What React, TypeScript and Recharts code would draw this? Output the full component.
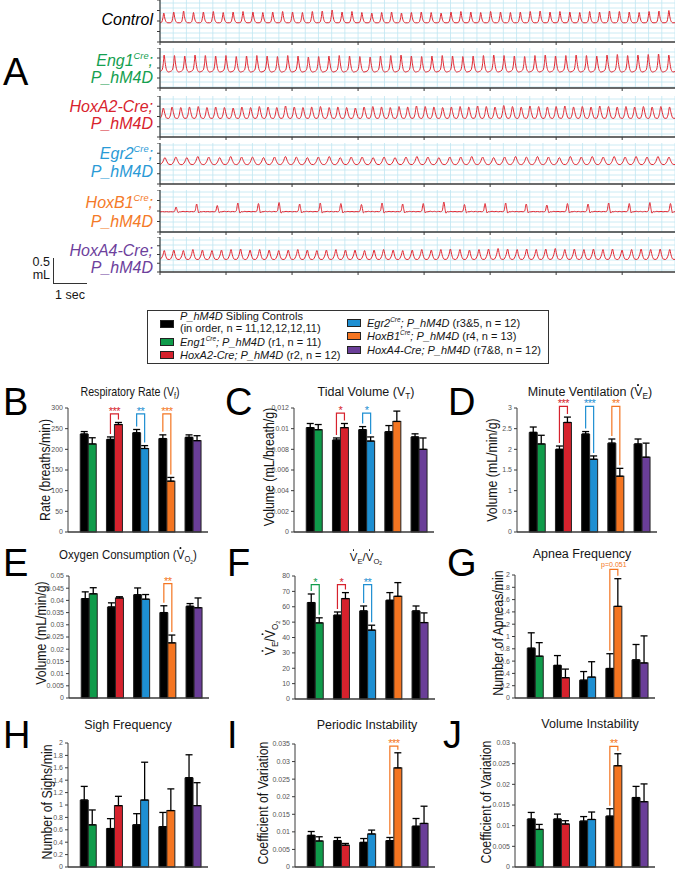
import React from 'react';
import { BarChart, Bar, XAxis, YAxis, ErrorBar, LineChart, Line, CartesianGrid } from 'recharts';

const FONT = '"Liberation Sans", Arial, Helvetica, sans-serif';
const INK = '#161616';
const AXIS = '#3a3a3a';
const TRACE_RED = '#e1252f';
const GRID_CYAN = '#bfe6f1';

// ---------- groups ----------
const GROUPS = ['Eng1', 'HoxA2', 'Egr2', 'HoxB1', 'HoxA4'];
const GROUP_COLORS = ['#0f9b4a', '#d6222d', '#1e8fd2', '#f47521', '#6a3e98'];

// ---------- panel A traces (peak tidal volume per breath, mL) ----------
const TRACE_SECONDS = 15.6;
const controlPeaks = [
  0.20, 0.22, 0.24, 0.21, 0.22, 0.23, 0.21, 0.22, 0.23, 0.22,
  0.21, 0.22, 0.23, 0.22, 0.21, 0.23, 0.24, 0.26, 0.22, 0.23,
  0.21, 0.20, 0.21, 0.22, 0.20, 0.21, 0.22, 0.21, 0.20, 0.22,
  0.23, 0.22, 0.21, 0.23, 0.22, 0.21, 0.22, 0.23, 0.24, 0.22,
  0.23, 0.22, 0.21, 0.23, 0.22, 0.24, 0.23, 0.22, 0.21, 0.23,
  0.24, 0.25,
];
const eng1Peaks = [
  0.34, 0.33, 0.32, 0.34, 0.33, 0.32, 0.33, 0.31, 0.32, 0.33,
  0.32, 0.31, 0.33, 0.32, 0.30, 0.31, 0.32, 0.33, 0.32, 0.31,
  0.30, 0.32, 0.33, 0.34, 0.32, 0.31, 0.32, 0.33, 0.32, 0.31,
  0.32, 0.33, 0.34, 0.33, 0.32, 0.31, 0.33, 0.34, 0.32, 0.33,
  0.34, 0.33, 0.32, 0.34, 0.35, 0.33, 0.34, 0.35, 0.36, 0.34,
];
const hoxA2Peaks = [
  0.22, 0.24, 0.23, 0.24, 0.25, 0.23, 0.24, 0.23, 0.22, 0.24,
  0.23, 0.25, 0.24, 0.23, 0.26, 0.24, 0.23, 0.24, 0.25, 0.23,
  0.24, 0.23, 0.22, 0.24, 0.25, 0.24, 0.23, 0.25, 0.24, 0.26,
  0.25, 0.24, 0.23, 0.24, 0.25, 0.24, 0.26, 0.25, 0.24, 0.27,
  0.25, 0.24, 0.26, 0.25, 0.24, 0.25, 0.26, 0.24, 0.25, 0.24,
  0.26, 0.25, 0.24, 0.25, 0.24, 0.25, 0.24, 0.25, 0.24,
];
const egr2Peaks = [
  0.15, 0.16, 0.15, 0.17, 0.16, 0.15, 0.17, 0.16, 0.16, 0.15,
  0.16, 0.17, 0.16, 0.15, 0.16, 0.17, 0.15, 0.16, 0.16, 0.15,
  0.16, 0.15, 0.16, 0.17, 0.16, 0.15, 0.16, 0.16, 0.17, 0.16,
  0.15, 0.16, 0.17, 0.16, 0.17, 0.16, 0.15, 0.17, 0.16, 0.17,
  0.16, 0.17, 0.16, 0.17, 0.16, 0.17, 0.16,
];
const hoxB1Peaks = [
  0.10, 0.16, 0.13, 0.18, 0.17, 0.19, 0.16, 0.18, 0.17, 0.15,
  0.18, 0.16, 0.17, 0.20, 0.15, 0.17, 0.18, 0.16, 0.14, 0.17,
  0.16, 0.18, 0.17, 0.19, 0.17,
];
const hoxA4Peaks = [
  0.19, 0.20, 0.19, 0.21, 0.20, 0.19, 0.20, 0.21, 0.22, 0.20,
  0.21, 0.20, 0.19, 0.20, 0.21, 0.20, 0.19, 0.20, 0.21, 0.20,
  0.20, 0.19, 0.20, 0.21, 0.20, 0.19, 0.20, 0.21, 0.20, 0.21,
  0.22, 0.21, 0.20, 0.21, 0.22, 0.23, 0.22, 0.21, 0.22, 0.21,
  0.22, 0.23, 0.21, 0.22, 0.21, 0.22, 0.21, 0.22, 0.20, 0.21,
  0.22, 0.21, 0.22, 0.21,
];

// one breath: [phase of breath, fraction of its peak]
const controlShape = [[0, 0.02], [0.18, 0.1], [0.3, 0.55], [0.38, 1], [0.48, 0.5], [0.6, 0.15], [0.78, 0.02]];
const eng1Shape = [[0, 0.03], [0.2, 0.12], [0.32, 0.5], [0.4, 1], [0.5, 0.55], [0.62, 0.15], [0.8, 0]];
const hoxA2Shape = [[0, 0.05], [0.2, 0.35], [0.38, 1], [0.55, 0.5], [0.75, 0.08]];
const egr2Shape = [[0, 0.05], [0.25, 0.4], [0.45, 1], [0.6, 0.55], [0.8, 0.1]];
const hoxB1Shape = [
  [0, 0.02], [0.12, 0.08], [0.22, 0.03], [0.32, 0.07], [0.42, 0.02], [0.52, 0.06],
  [0.62, 0.03], [0.7, 0.12], [0.78, 1], [0.84, 0.25], [0.88, -0.12], [0.94, 0.04],
];
const hoxA4Shape = [[0, 0.05], [0.3, 0.5], [0.45, 1], [0.58, 0.5], [0.78, 0.08]];

// ---------- bar panels ----------
const rateCtrl = [237, 224, 240, 226, 229];
const rateCtrlErr = [6, 6, 8, 9, 6];
const rateExp = [213, 260, 202, 123, 221];
const rateExpErr = [15, 5, 7, 9, 12];
const rateSig = ['', '***', '**', '***', ''];
const rateTicks = [0, 50, 100, 150, 200, 250, 300];

const tidalCtrl = [0.0101, 0.0089, 0.0099, 0.0097, 0.0092];
const tidalCtrlErr = [0.0004, 0.0002, 0.0003, 0.0006, 0.0003];
const tidalExp = [0.0099, 0.0101, 0.0088, 0.0107, 0.008];
const tidalExpErr = [0.0005, 0.0004, 0.0004, 0.001, 0.0011];
const tidalSig = ['', '*', '*', '', ''];
const tidalTicks = [0, 0.002, 0.004, 0.006, 0.008, 0.01, 0.012];

const ventCtrl = [2.41, 2.0, 2.37, 2.15, 2.13];
const ventCtrlErr = [0.13, 0.08, 0.06, 0.1, 0.12];
const ventExp = [2.13, 2.65, 1.76, 1.35, 1.81];
const ventExpErr = [0.21, 0.13, 0.08, 0.19, 0.34];
const ventSig = ['', '***', '***', '**', ''];
const ventTicks = [0, 0.5, 1, 1.5, 2, 2.5, 3];

const o2Ctrl = [0.0407, 0.0373, 0.0423, 0.035, 0.0376];
const o2CtrlErr = [0.0028, 0.0017, 0.0028, 0.0028, 0.0011];
const o2Exp = [0.0427, 0.041, 0.0405, 0.0226, 0.037];
const o2ExpErr = [0.0025, 0.0005, 0.0019, 0.0032, 0.004];
const o2Sig = ['', '', '', '**', ''];
const o2Ticks = [0, 0.005, 0.01, 0.015, 0.02, 0.025, 0.03, 0.035, 0.04, 0.045, 0.05];

const ratioCtrl = [62.7, 54.5, 57.3, 64.2, 57.3];
const ratioCtrlErr = [5.6, 2.1, 3.2, 5.0, 3.2];
const ratioExp = [49.5, 65.3, 44.8, 66.8, 49.7];
const ratioExpErr = [3.3, 3.9, 3.2, 8.9, 6.3];
const ratioSig = ['*', '*', '**', '', ''];
const ratioTicks = [0, 10, 20, 30, 40, 50, 60, 70, 80];

const apneaCtrl = [0.81, 0.53, 0.29, 0.48, 0.62];
const apneaCtrlErr = [0.25, 0.16, 0.14, 0.24, 0.25];
const apneaExp = [0.68, 0.33, 0.34, 1.49, 0.57];
const apneaExpErr = [0.22, 0.14, 0.25, 0.45, 0.44];
const apneaSig = ['', '', '', 'p=0.051', ''];
const perMinTicks = [0, 0.2, 0.4, 0.6, 0.8, 1, 1.2, 1.4, 1.6, 1.8, 2];

const sighCtrl = [1.08, 0.62, 0.68, 0.65, 1.44];
const sighCtrlErr = [0.22, 0.16, 0.18, 0.23, 0.37];
const sighExp = [0.68, 0.99, 1.08, 0.91, 0.99];
const sighExpErr = [0.24, 0.15, 0.61, 0.35, 0.37];
const sighSig = ['', '', '', '', ''];

const periodCtrl = [0.009, 0.0075, 0.007, 0.0075, 0.0116];
const periodCtrlErr = [0.0011, 0.0009, 0.0011, 0.0009, 0.0022];
const periodExp = [0.0074, 0.0062, 0.0094, 0.0282, 0.0124];
const periodExpErr = [0.0012, 0.0005, 0.0011, 0.0043, 0.0049];
const periodSig = ['', '', '', '***', ''];
const periodTicks = [0, 0.005, 0.01, 0.015, 0.02, 0.025, 0.03, 0.035];

const volCtrl = [0.0116, 0.0116, 0.0111, 0.0123, 0.0168];
const volCtrlErr = [0.0016, 0.0012, 0.0011, 0.0018, 0.0027];
const volExp = [0.0091, 0.0104, 0.0115, 0.0245, 0.0158];
const volExpErr = [0.0012, 0.0008, 0.0018, 0.0029, 0.0043];
const volSig = ['', '', '', '**', ''];
const volTicks = [0, 0.005, 0.01, 0.015, 0.02, 0.025, 0.03];

// ---------- small text helpers ----------
const Sup = ({ children }: any) => (
  <span style={{ fontSize: '0.58em', position: 'relative', top: '-0.75em' }}>{children}</span>
);
const Sub = ({ children }: any) => (
  <span style={{ fontSize: '0.66em', position: 'relative', top: '0.35em' }}>{children}</span>
);
const VDot = () => (
  <span style={{ position: 'relative', display: 'inline-block' }}>
    V
    <span
      style={{
        position: 'absolute', left: '50%', top: '0.02em', width: '0.14em', height: '0.14em',
        marginLeft: '-0.07em', borderRadius: '50%', background: 'currentColor',
      }}
    />
  </span>
);
const I = ({ children }: any) => <span style={{ fontStyle: 'italic' }}>{children}</span>;

function Letter({ ch, x, y }: { ch: string; x: number; y: number }) {
  return (
    <div style={{ position: 'absolute', left: x - 3, top: y - 5, fontSize: 38, lineHeight: '38px', color: '#000' }}>
      {ch}
    </div>
  );
}

function Title({ cx, cy, size = 12.5, sx = 1, children }: any) {
  return (
    <div
      style={{
        position: 'absolute', left: cx - 110, top: cy - 8, width: 220, textAlign: 'center',
        fontSize: size, lineHeight: '16px', whiteSpace: 'nowrap', color: INK,
        transform: `scaleX(${sx})`,
      }}
    >
      {children}
    </div>
  );
}

function YLabel({ cx, cy, children }: any) {
  return (
    <div
      style={{
        position: 'absolute', left: cx, top: cy,
        transform: 'translate(-50%, -50%) rotate(-90deg) scaleX(0.88)',
        fontSize: 14, lineHeight: '16px', whiteSpace: 'nowrap', color: INK,
      }}
    >
      {children}
    </div>
  );
}

// ---------- bar panel ----------
function makeExpShape(bracketAt: number) {
  return (props: any) => {
    const { x, y, width, height, payload } = props;
    const parts: any[] = [
      <rect key="r" x={x} y={y} width={width} height={height} fill={payload.color} stroke="#222" strokeWidth={1} />,
    ];
    if (payload.sig) {
      const unit = height / payload.exp; // px per data unit, taken from the bar itself
      const base = y + height;
      const xl = x - width / 2;
      const xr = x + width / 2;
      const top = base - bracketAt * unit;
      const legL = base - (payload.ctrl + payload.ctrlErr[1]) * unit - 3;
      const legR = base - (payload.exp + payload.expErr[1]) * unit - 3;
      parts.push(
        <path key="b" d={`M${xl},${legL}V${top}H${xr}V${legR}`} fill="none" stroke={payload.color} strokeWidth={1.2} />,
      );
      const isP = payload.sig.startsWith('p');
      parts.push(
        <text
          key="t" x={(xl + xr) / 2} y={isP ? top - 2 : top + 1} textAnchor="middle"
          fontSize={isP ? 7 : 11} fontFamily={FONT} fill={payload.color} letterSpacing={isP ? 0 : -0.5}
        >
          {payload.sig}
        </text>,
      );
    }
    return <g>{parts}</g>;
  };
}

function BarPanel({ cfg }: { cfg: any }) {
  const rows = GROUPS.map((g, i) => ({
    group: g,
    ctrl: cfg.ctrl[i],
    exp: cfg.exp[i],
    ctrlErr: [0, cfg.ctrlErr[i]],
    expErr: [0, cfg.expErr[i]],
    sig: cfg.sig[i],
    color: GROUP_COLORS[i],
  }));
  const TOP = 22;
  const plotH = cfg.bottom - cfg.top;
  const max = cfg.ticks[cfg.ticks.length - 1];
  return (
    <div style={{ position: 'absolute', left: cfg.left - 30, top: cfg.top - TOP }}>
      <BarChart
        width={30 + cfg.width + 2}
        height={TOP + plotH + 2}
        data={rows}
        margin={{ top: TOP, right: 2, bottom: 0, left: 0 }}
        barGap={0}
        barCategoryGap="20%"
      >
        <XAxis
          dataKey="group" tick={false} tickLine={false} height={2}
          axisLine={{ stroke: AXIS, strokeWidth: 1.5 }} padding={{ left: 7, right: 2 }}
        />
        <YAxis
          width={30} domain={[0, max]} ticks={cfg.ticks} interval={0} tickSize={3}
          tick={{ fontSize: 7, fill: '#555', fontFamily: FONT }}
          tickLine={{ stroke: AXIS }} axisLine={{ stroke: AXIS }}
        />
        <Bar dataKey="ctrl" fill="#000" stroke="#222" strokeWidth={1} isAnimationActive={false}>
          <ErrorBar dataKey="ctrlErr" width={3.5} stroke="#000" strokeWidth={1.3} direction="y" />
        </Bar>
        <Bar dataKey="exp" shape={makeExpShape(cfg.bracketAt)} isAnimationActive={false}>
          <ErrorBar dataKey="expErr" width={3.5} stroke="#000" strokeWidth={1.3} direction="y" />
        </Bar>
      </BarChart>
    </div>
  );
}

const PANELS = [
  { left: 68, top: 408, bottom: 532, width: 140, ctrl: rateCtrl, ctrlErr: rateCtrlErr, exp: rateExp, expErr: rateExpErr, sig: rateSig, ticks: rateTicks, bracketAt: 286 },
  { left: 294, top: 408, bottom: 532, width: 140, ctrl: tidalCtrl, ctrlErr: tidalCtrlErr, exp: tidalExp, expErr: tidalExpErr, sig: tidalSig, ticks: tidalTicks, bracketAt: 0.0115 },
  { left: 517, top: 408, bottom: 532, width: 140, ctrl: ventCtrl, ctrlErr: ventCtrlErr, exp: ventExp, expErr: ventExpErr, sig: ventSig, ticks: ventTicks, bracketAt: 3.04 },
  { left: 69, top: 576, bottom: 698, width: 140, ctrl: o2Ctrl, ctrlErr: o2CtrlErr, exp: o2Exp, expErr: o2ExpErr, sig: o2Sig, ticks: o2Ticks, bracketAt: 0.0469 },
  { left: 295, top: 576, bottom: 699, width: 140, ctrl: ratioCtrl, ctrlErr: ratioCtrlErr, exp: ratioExp, expErr: ratioExpErr, sig: ratioSig, ticks: ratioTicks, bracketAt: 74.4 },
  { left: 515, top: 575, bottom: 698, width: 140, ctrl: apneaCtrl, ctrlErr: apneaCtrlErr, exp: apneaExp, expErr: apneaExpErr, sig: apneaSig, ticks: perMinTicks, bracketAt: 2.09 },
  { left: 68, top: 743, bottom: 867, width: 140, ctrl: sighCtrl, ctrlErr: sighCtrlErr, exp: sighExp, expErr: sighExpErr, sig: sighSig, ticks: perMinTicks, bracketAt: 2 },
  { left: 295, top: 744, bottom: 867, width: 140, ctrl: periodCtrl, ctrlErr: periodCtrlErr, exp: periodExp, expErr: periodExpErr, sig: periodSig, ticks: periodTicks, bracketAt: 0.0344 },
  { left: 515, top: 743, bottom: 867, width: 140, ctrl: volCtrl, ctrlErr: volCtrlErr, exp: volExp, expErr: volExpErr, sig: volSig, ticks: volTicks, bracketAt: 0.0292 },
];

// ---------- trace rows ----------
function buildTrace(peaks: number[], shape: number[][]) {
  const T = TRACE_SECONDS / peaks.length;
  const pts: { t: number; v: number }[] = [];
  peaks.forEach((amp, i) => {
    shape.forEach(([ph, f]) => pts.push({ t: +((i + ph) * T).toFixed(4), v: amp * f }));
  });
  pts.push({ t: TRACE_SECONDS, v: peaks[peaks.length - 1] * shape[0][1] });
  return pts;
}

const MINOR_TICKS = Array.from({ length: 40 }, (_, i) => +(i * 0.4).toFixed(2));
const MAJOR_TICKS = [0, 2, 4, 6, 8, 10, 12, 14];

const TRACE_ROWS = [
  { peaks: controlPeaks, shape: controlShape, top: 0, bottom: 42, lo: -0.38, hi: 0.46 },
  { peaks: eng1Peaks, shape: eng1Shape, top: 48, bottom: 88, lo: -0.32, hi: 0.48 },
  { peaks: hoxA2Peaks, shape: hoxA2Shape, top: 96, bottom: 137, lo: -0.36, hi: 0.46 },
  { peaks: egr2Peaks, shape: egr2Shape, top: 143, bottom: 184, lo: -0.38, hi: 0.44 },
  { peaks: hoxB1Peaks, shape: hoxB1Shape, top: 190, bottom: 232, lo: -0.4, hi: 0.44 },
  { peaks: hoxA4Peaks, shape: hoxA4Shape, top: 237, bottom: 272, lo: -0.24, hi: 0.46 },
];

const noTick = () => <g />;

function TraceRow({ row }: { row: any }) {
  const data = buildTrace(row.peaks, row.shape);
  const h = row.bottom - row.top;
  const q = (row.hi - row.lo) / 4;
  const yTicks = [0, 1, 2, 3, 4].map((k) => row.lo + k * q);
  const hLines: number[] = [];
  for (let v = Math.ceil(row.lo * 10) / 10; v <= row.hi + 1e-9; v += 0.1) hLines.push(+v.toFixed(2));
  return (
    <div style={{ position: 'absolute', left: 156, top: row.top }}>
      <LineChart width={519} height={h + 4} data={data} margin={{ top: 0, right: 0, bottom: 0, left: 0 }}>
        <CartesianGrid stroke={GRID_CYAN} strokeWidth={0.8} verticalValues={MINOR_TICKS} horizontalValues={hLines} />
        <XAxis
          type="number" dataKey="t" domain={[0, TRACE_SECONDS]} ticks={MAJOR_TICKS} tick={noTick} interval={0}
          tickSize={3} height={4} axisLine={{ stroke: AXIS, strokeWidth: 1.5 }} tickLine={{ stroke: AXIS }} allowDataOverflow
        />
        <YAxis
          type="number" domain={[row.lo, row.hi]} ticks={yTicks} tick={noTick} interval={0} tickSize={3} width={4}
          axisLine={{ stroke: AXIS, strokeWidth: 1.2 }} tickLine={{ stroke: AXIS }} allowDataOverflow
        />
        <Line type="monotone" dataKey="v" stroke={TRACE_RED} strokeWidth={1} dot={false} isAnimationActive={false} />
      </LineChart>
    </div>
  );
}

function RowLabel({ cy, color, children }: any) {
  return (
    <div
      style={{
        position: 'absolute', left: 0, width: 153, top: cy - 9, textAlign: 'right', fontSize: 16,
        lineHeight: '18px', fontStyle: 'italic', color, whiteSpace: 'nowrap',
      }}
    >
      {children}
    </div>
  );
}

function LegendLine({ x, cy, children }: any) {
  return (
    <div style={{ position: 'absolute', left: x, top: cy - 7, fontSize: 11, lineHeight: '14px', whiteSpace: 'nowrap', color: INK }}>
      {children}
    </div>
  );
}

function Swatch({ x, cy, color }: any) {
  return (
    <div
      style={{
        position: 'absolute', left: x, top: cy - 4, width: 12, height: 6, background: color,
        border: '1px solid #222',
      }}
    />
  );
}

export default function App() {
  return (
    <div
      style={{
        position: 'absolute', left: 0, top: 0, width: 675, height: 872, overflow: 'hidden',
        background: '#fff', fontFamily: FONT,
      }}
    >
      {/* ---- A ---- */}
      <Letter ch="A" x={6} y={58} />
      {TRACE_ROWS.map((r, i) => <TraceRow key={i} row={r} />)}
      <RowLabel cy={20} color="#000">Control</RowLabel>
      <RowLabel cy={61} color="#14a050">Eng1<Sup>Cre</Sup>;</RowLabel>
      <RowLabel cy={78} color="#14a050">P_hM4D</RowLabel>
      <RowLabel cy={107} color="#d8232d">HoxA2-Cre;</RowLabel>
      <RowLabel cy={124} color="#d8232d">P_hM4D</RowLabel>
      <RowLabel cy={154} color="#2a9ad6">Egr2<Sup>Cre</Sup>;</RowLabel>
      <RowLabel cy={172} color="#2a9ad6">P_hM4D</RowLabel>
      <RowLabel cy={203} color="#f47a28">HoxB1<Sup>Cre</Sup>;</RowLabel>
      <RowLabel cy={222} color="#f47a28">P_hM4D</RowLabel>
      <RowLabel cy={251} color="#6d3f9c">HoxA4-Cre;</RowLabel>
      <RowLabel cy={268} color="#6d3f9c">P_hM4D</RowLabel>

      {/* scale bar: 0.5 mL / 1 s */}
      <div style={{ position: 'absolute', left: 53, top: 258, width: 33, height: 25, borderLeft: '1.2px solid #333', borderBottom: '1.2px solid #333' }} />
      <div style={{ position: 'absolute', left: 0, width: 50, top: 256, textAlign: 'right', fontSize: 12.5, lineHeight: '13px', color: INK }}>
        0.5<br />mL
      </div>
      <div style={{ position: 'absolute', left: 40, width: 60, top: 288, textAlign: 'center', fontSize: 12.5, lineHeight: '14px', color: INK }}>
        1 sec
      </div>

      {/* ---- legend ---- */}
      <div style={{ position: 'absolute', left: 147, top: 310, width: 400, height: 52, border: '1.5px solid #333' }} />
      <Swatch x={160} cy={324} color="#000" />
      <LegendLine x={180} cy={316}><I>P_hM4D</I> Sibling Controls</LegendLine>
      <LegendLine x={180} cy={328}>(in order, n = 11,12,12,12,11)</LegendLine>
      <Swatch x={160} cy={342} color={GROUP_COLORS[0]} />
      <LegendLine x={180} cy={342}><I>Eng1<Sup>Cre</Sup>; P_hM4D</I> (r1, n = 11)</LegendLine>
      <Swatch x={160} cy={355} color={GROUP_COLORS[1]} />
      <LegendLine x={180} cy={355}><I>HoxA2-Cre; P_hM4D</I> (r2, n = 12)</LegendLine>
      <Swatch x={347} cy={323} color={GROUP_COLORS[2]} />
      <LegendLine x={367} cy={323}><I>Egr2<Sup>Cre</Sup>; P_hM4D</I> (r3&amp;5, n = 12)</LegendLine>
      <Swatch x={347} cy={336} color={GROUP_COLORS[3]} />
      <LegendLine x={367} cy={336}><I>HoxB1<Sup>Cre</Sup>; P_hM4D</I> (r4, n = 13)</LegendLine>
      <Swatch x={347} cy={350} color={GROUP_COLORS[4]} />
      <LegendLine x={367} cy={350}><I>HoxA4-Cre; P_hM4D</I> (r7&amp;8, n = 12)</LegendLine>

      {/* ---- bar panels ---- */}
      {PANELS.map((p, i) => <BarPanel key={i} cfg={p} />)}

      <Letter ch="B" x={6} y={388} />
      <Letter ch="C" x={228} y={388} />
      <Letter ch="D" x={451} y={388} />
      <Letter ch="E" x={6} y={549} />
      <Letter ch="F" x={230} y={549} />
      <Letter ch="G" x={450} y={549} />
      <Letter ch="H" x={6} y={721} />
      <Letter ch="I" x={230} y={721} />
      <Letter ch="J" x={446} y={721} />

      <Title cx={130} cy={392} size={13} sx={0.82}>Respiratory Rate (V<Sub>f</Sub>)</Title>
      <Title cx={366} cy={392}>Tidal Volume (V<Sub>T</Sub>)</Title>
      <Title cx={590} cy={392}>Minute Ventilation (<VDot /><Sub>E</Sub>)</Title>
      <Title cx={128} cy={555} sx={0.92}>Oxygen Consumption (<VDot /><Sub>O<Sub>2</Sub></Sub>)</Title>
      <Title cx={366} cy={557} size={11.5}><VDot /><Sub>E</Sub>/<VDot /><Sub>O<Sub>2</Sub></Sub></Title>
      <Title cx={582} cy={554}>Apnea Frequency</Title>
      <Title cx={128} cy={725}>Sigh Frequency</Title>
      <Title cx={367} cy={725}>Periodic Instability</Title>
      <Title cx={590} cy={724}>Volume Instability</Title>

      <YLabel cx={45} cy={470}>Rate (breaths/min)</YLabel>
      <YLabel cx={269} cy={467}>Volume (mL/breath/g)</YLabel>
      <YLabel cx={492} cy={470}>Volume (mL/min/g)</YLabel>
      <YLabel cx={41} cy={633}>Volume (mL/min/g)</YLabel>
      <YLabel cx={271} cy={638}><VDot /><Sub>E</Sub>/<VDot /><Sub>O<Sub>2</Sub></Sub></YLabel>
      <YLabel cx={498} cy={633}>Number of Apneas/min</YLabel>
      <YLabel cx={47} cy={802}>Number of Sighs/min</YLabel>
      <YLabel cx={263} cy={803}>Coefficient of Variation</YLabel>
      <YLabel cx={486} cy={802}>Coefficient of Variation</YLabel>
    </div>
  );
}
